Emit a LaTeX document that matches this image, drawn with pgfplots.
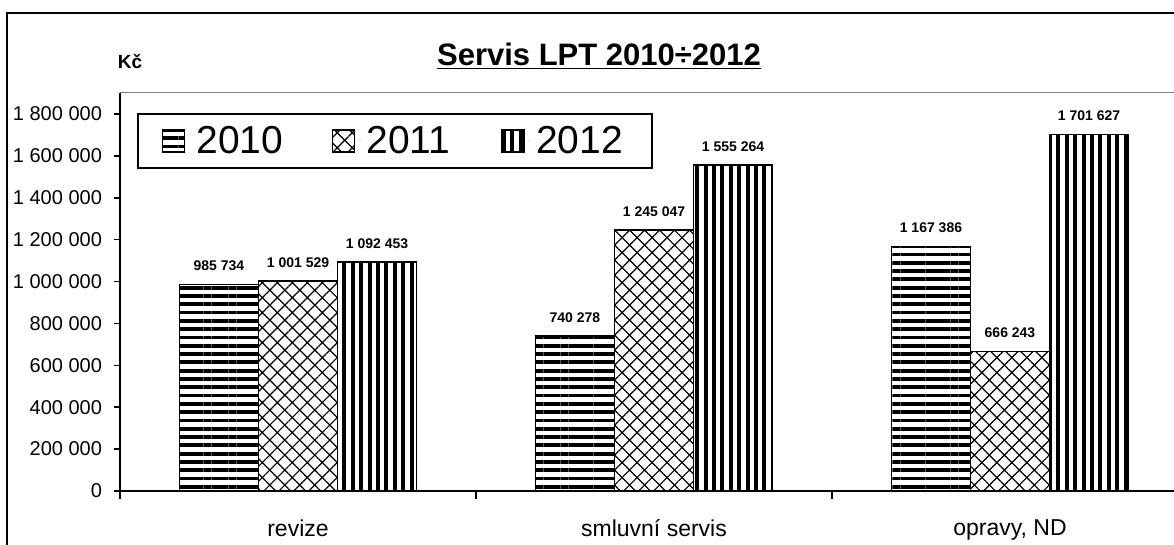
\documentclass[border=0pt]{standalone}
\usepackage{pgfplots}
\pgfplotsset{compat=1.18}
\usepackage{fontspec}
\setmainfont{Liberation Sans}
\usetikzlibrary{patterns.meta}

\begin{document}
\begin{tikzpicture}
\path[use as bounding box] (0,0) rectangle (587pt,272.5pt);
\clip (0,0) rectangle (587pt,272.5pt);
\fill[white] (0,0) rectangle (587pt,272.5pt);
\draw[line width=1pt] (3.6pt,-5pt) -- (3.6pt,266.2pt) -- (600pt,266.2pt);
\node[font=\bfseries\fontsize{15.5}{18}\selectfont] at (299.5pt,244.5pt) {\underline{Servis LPT 2010÷2012}};
\node[font=\bfseries\fontsize{9.5}{11}\selectfont] at (65pt,241.5pt) {Kč};
\begin{axis}[
  at={(60pt,27pt)}, anchor=south west,
  scale only axis, width=534pt, height=199pt,
  xmin=-0.5, xmax=2.5, ymin=0, ymax=1900000,
  axis lines=left, axis line style={-, line width=0.8pt, black},
  ytick={0,200000,400000,600000,800000,1000000,1200000,1400000,1600000,1800000},
  scaled y ticks=false,
  yticklabel style={/pgf/number format/fixed, /pgf/number format/precision=0, /pgf/number format/1000 sep={\ }, /pgf/number format/assume math mode=true, font=\fontsize{10}{12}\selectfont, xshift=-2.5pt},
  xtick={0,1,2},
  xticklabels={revize, smluvní servis, {opravy, ND}},
  xticklabel style={font=\fontsize{11.5}{13}\selectfont, yshift=-8pt},
  minor xtick={-0.5,0.5,1.5,2.5},
  major x tick style={draw=none},
  tick align=outside, major tick length=3pt, minor tick length=4pt,
  tick style={line width=0.8pt, black},
  clip=false,
  ybar=0pt, bar width=0.222,
  point meta=explicit symbolic,
  nodes near coords,
  every node near coord/.append style={font=\bfseries\fontsize{7}{8}\selectfont, yshift=3pt, black},
  legend columns=3,
  legend style={at={(0.0159,0.9497)}, anchor=north west, draw=black, line width=0.8pt,
    font=\fontsize{19.5}{21}\selectfont, inner xsep=12pt, inner ysep=4pt},
  legend image code/.code={\draw[#1, line width=0.8pt] (0pt,-5.5pt) rectangle (11pt,5.5pt); \path[draw=none] (0pt,0pt) -- (15pt,0pt);},
]
\draw[gray, line width=0.5pt] (rel axis cs:0,1) -- (rel axis cs:1,1);
\addplot[draw=black, line width=0.9pt,
  pattern={Lines[angle=0,distance=4.15pt,line width=1.9pt]}]
  coordinates {(0,985734) [985\ 734] (1,740278) [740\ 278] (2,1167386) [1\ 167\ 386]};
\addlegendentry{\makebox[65.5pt][l]{2010}}
\addplot[draw=black, line width=0.9pt,
  pattern={Hatch[angle=45,distance=5.3pt,line width=0.6pt]}]
  coordinates {(0,1001529) [1\ 001\ 529] (1,1245047) [1\ 245\ 047] (2,666243) [666\ 243]};
\addlegendentry{\makebox[65.5pt][l]{2011}}
\addplot[draw=black, line width=0.9pt,
  pattern={Lines[angle=90,distance=4.2pt,line width=2pt]}]
  coordinates {(0,1092453) [1\ 092\ 453] (1,1555264) [1\ 555\ 264] (2,1701627) [1\ 701\ 627]};
\addlegendentry{\makebox[44pt][l]{2012}}
\end{axis}
\end{tikzpicture}
\end{document}
